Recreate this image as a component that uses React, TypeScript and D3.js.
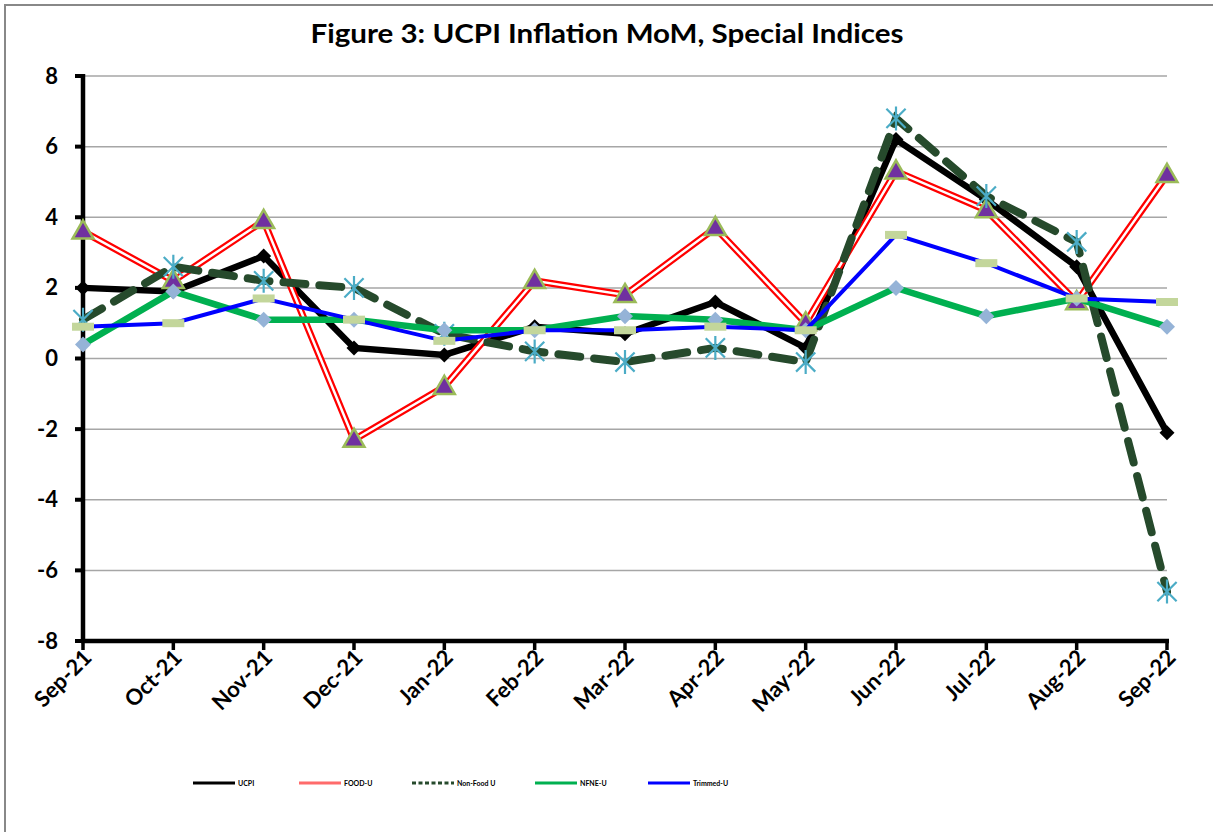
import React from "react";
import * as d3 from "d3";

const months = ["Sep-21","Oct-21","Nov-21","Dec-21","Jan-22","Feb-22","Mar-22","Apr-22","May-22","Jun-22","Jul-22","Aug-22","Sep-22"];
const ucpi = [2.0, 1.9, 2.9, 0.3, 0.1, 0.9, 0.7, 1.6, 0.3, 6.2, 4.5, 2.6, -2.1];
const foodU = [3.6, 2.2, 3.9, -2.3, -0.8, 2.2, 1.8, 3.7, 1.0, 5.3, 4.2, 1.6, 5.2];
const nonFoodU = [1.1, 2.6, 2.2, 2.0, 0.7, 0.2, -0.1, 0.3, -0.1, 6.8, 4.6, 3.3, -6.6];
const nfneU = [0.4, 1.9, 1.1, 1.1, 0.8, 0.8, 1.2, 1.1, 0.8, 2.0, 1.2, 1.7, 0.9];
const trimmedU = [0.9, 1.0, 1.7, 1.1, 0.5, 0.8, 0.8, 0.9, 0.8, 3.5, 2.7, 1.7, 1.6];
const yTicks = [-8, -6, -4, -2, 0, 2, 4, 6, 8];
const legendNames = ["UCPI", "FOOD-U", "Non-Food U", "NFNE-U", "Trimmed-U"];

const W = 1213, H = 832;
const x0 = 83, x1 = 1167, yTop = 76, yBot = 641;
const font = "Lato, 'Open Sans', sans-serif";

export default function App() {
  const x = d3.scalePoint<string>().domain(months).range([x0, x1]);
  const y = d3.scaleLinear().domain([-8, 8]).range([yBot, yTop]);
  const line = d3.line<number>().x((_, i) => x(months[i])!).y(d => y(d));

  const diamond = (cx: number, cy: number, r: number) =>
    `M${cx},${cy - r}L${cx + r},${cy}L${cx},${cy + r}L${cx - r},${cy}Z`;
  const tri = (cx: number, cy: number, r: number) =>
    `M${cx},${cy - r}L${cx + r * 0.95},${cy + r * 0.65}L${cx - r * 0.95},${cy + r * 0.65}Z`;

  const legendX = [193, 299, 412, 535, 648];
  const legendY = 783;

  return (
    <svg width={W} height={H} style={{ position: "absolute", left: 0, top: 0, background: "#fff" }}>
      <rect x={0} y={0} width={W} height={H} fill="#fff" />
      <path d={`M5,${H + 2}V5H${W + 2}`} fill="none" stroke="#888" strokeWidth={2} />
      <text x={607} y={43} textAnchor="middle" fontFamily={font} fontWeight="bold" fontSize={27}
        textLength={593} lengthAdjust="spacingAndGlyphs" fill="#000">
        Figure 3: UCPI Inflation MoM, Special Indices
      </text>

      {yTicks.filter(t => t !== -8).map(t => (
        <line key={t} x1={x0} x2={x1} y1={y(t)} y2={y(t)} stroke="#a6a6a6" strokeWidth={1.5} />
      ))}

      <line x1={x0} x2={x0} y1={yTop - 2} y2={yBot + 2} stroke="#000" strokeWidth={4.5} />
      {yTicks.map(t => (
        <g key={t}>
          <line x1={x0 - 8} x2={x0} y1={y(t)} y2={y(t)} stroke="#000" strokeWidth={4} />
          <text x={58} y={y(t) + 7.5} textAnchor="end" fontFamily={font} fontWeight="bold" fontSize={22}>{t}</text>
        </g>
      ))}
      <line x1={x0 - 2} x2={x1 + 2} y1={yBot} y2={yBot} stroke="#000" strokeWidth={4.5} />
      {months.map(m => (
        <g key={m}>
          <line x1={x(m)} x2={x(m)} y1={yBot} y2={yBot + 9} stroke="#000" strokeWidth={3.5} />
          <text transform={`translate(${x(m)! + 10},${yBot + 18}) rotate(-45)`} textAnchor="end"
            fontFamily={font} fontWeight="bold" fontSize={22}>{m}</text>
        </g>
      ))}

      <path d={line(ucpi)!} fill="none" stroke="#000" strokeWidth={6.5} strokeLinejoin="miter" />
      {ucpi.map((v, i) => <path key={i} d={diamond(x(months[i])!, y(v), 7.5)} fill="#000" />)}

      <path d={line(foodU)!} fill="none" stroke="#ff0000" strokeWidth={7} />
      <path d={line(foodU)!} fill="none" stroke="#fff" strokeWidth={2.5} />
      {foodU.map((v, i) => <path key={i} d={tri(x(months[i])!, y(v), 11)} fill="#7030a0" stroke="#9bbb59" strokeWidth={2.5} />)}

      <path d={line(nonFoodU)!} fill="none" stroke="#264a2c" strokeWidth={8} strokeDasharray="22 14" strokeLinecap="round" />
      {nonFoodU.map((v, i) => {
        const cx = x(months[i])!, cy = y(v), r = 12;
        const d = `M${cx},${cy - r}V${cy + r}M${cx - r * 0.8},${cy - r * 0.8}L${cx + r * 0.8},${cy + r * 0.8}M${cx + r * 0.8},${cy - r * 0.8}L${cx - r * 0.8},${cy + r * 0.8}`;
        return <path key={i} d={d} stroke="#4bacc6" strokeWidth={2.2} fill="none" />;
      })}

      <path d={line(nfneU)!} fill="none" stroke="#00b050" strokeWidth={6.5} />
      {nfneU.map((v, i) => <path key={i} d={diamond(x(months[i])!, y(v), 8)} fill="#95b3d7" />)}

      <path d={line(trimmedU)!} fill="none" stroke="#0000ff" strokeWidth={4} />
      {trimmedU.map((v, i) => <rect key={i} x={x(months[i])! - 11} y={y(v) - 4} width={22} height={8} fill="#c3d69b" />)}

      {legendNames.map((n, i) => {
        const lx = legendX[i];
        let sw: React.ReactNode;
        if (i === 0) sw = <line x1={lx} x2={lx + 42} y1={legendY} y2={legendY} stroke="#000" strokeWidth={3} />;
        else if (i === 1) sw = <line x1={lx} x2={lx + 42} y1={legendY} y2={legendY} stroke="#ff6b6b" strokeWidth={3} />;
        else if (i === 2) sw = <line x1={lx} x2={lx + 42} y1={legendY} y2={legendY} stroke="#264a2c" strokeWidth={3} strokeDasharray="4 2.5" />;
        else if (i === 3) sw = <line x1={lx} x2={lx + 42} y1={legendY} y2={legendY} stroke="#00b050" strokeWidth={3} />;
        else sw = <line x1={lx} x2={lx + 42} y1={legendY} y2={legendY} stroke="#0000ff" strokeWidth={3} />;
        return (
          <g key={n}>
            {sw}
            <text x={lx + 45} y={legendY + 2.5} fontFamily={font} fontWeight="bold" fontSize={7}>{n}</text>
          </g>
        );
      })}
    </svg>
  );
}
